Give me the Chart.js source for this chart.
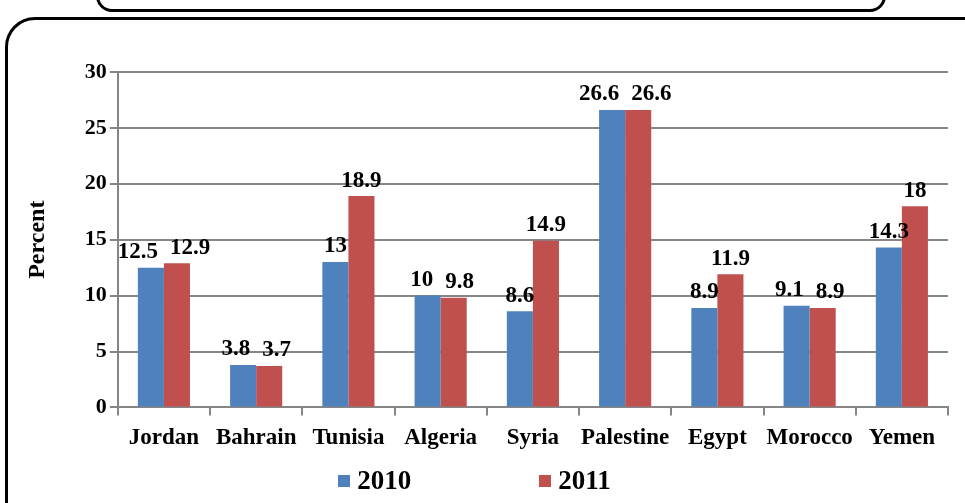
<!DOCTYPE html>
<html>
<head>
<meta charset="utf-8">
<script src="https://cdn.jsdelivr.net/npm/chart.js@4.4.0/dist/chart.umd.min.js"></script>
<style>
  html, body { margin: 0; padding: 0; background: #fff; }
  #wrap { position: relative; width: 965px; height: 503px; overflow: hidden; }
  #myChart { position: absolute; left: 0; top: 0; }
  .box { position: absolute; border: 3px solid #000; box-sizing: border-box; pointer-events: none; }
  #topBox { left: 96px; top: -40px; width: 790px; height: 52px; border-radius: 16px; }
  #outerBox { left: 5px; top: 17px; width: 990px; height: 540px; border-radius: 30px; }
  #legend { position: absolute; left: -8px; top: 465px; width: 965px; display: flex; justify-content: center;
            font-family: 'Liberation Serif', 'Times New Roman', serif; font-weight: bold; font-size: 27px; color: #000; }
  .item { display: flex; align-items: center; margin: 0 64px; }
  .swatch { width: 12px; height: 12px; margin-right: 7px; }
</style>
</head>
<body>
<div id="wrap">
  <canvas id="myChart" width="965" height="503"></canvas>
  <div id="legend"></div>
  <div class="box" id="topBox"></div>
  <div class="box" id="outerBox"></div>
</div>
<script>
const countries = ['Jordan', 'Bahrain', 'Tunisia', 'Algeria', 'Syria', 'Palestine', 'Egypt', 'Morocco', 'Yemen'];
const values2010 = [12.5, 3.8, 13, 10, 8.6, 26.6, 8.9, 9.1, 14.3];
const values2011 = [12.9, 3.7, 18.9, 9.8, 14.9, 26.6, 11.9, 8.9, 18];
const yTicks = [0, 5, 10, 15, 20, 25, 30];

const serif = "'Liberation Serif', 'Times New Roman', serif";

// labels above bars, pushed apart when the two in a group would overlap
const barLabels = {
    id: 'barLabels',
    afterDatasetsDraw(chart) {
        const ctx = chart.ctx;
        ctx.save();
        ctx.font = 'bold 23px ' + serif;
        ctx.fillStyle = '#000';
        ctx.textAlign = 'center';
        ctx.textBaseline = 'bottom';
        const m0 = chart.getDatasetMeta(0), m1 = chart.getDatasetMeta(1);
        for (let i = 0; i < countries.length; i++) {
            const a = m0.data[i], b = m1.data[i];
            const ta = String(values2010[i]), tb = String(values2011[i]);
            const wa = ctx.measureText(ta).width, wb = ctx.measureText(tb).width;
            let xa = a.x, xb = b.x;
            const ya = a.y - 4, yb = b.y - 4;
            const need = (wa + wb) / 2 + 12;
            if (Math.abs(ya - yb) < 24 && xb - xa < need) {
                const push = (need - (xb - xa)) / 2;
                xa -= push;
                xb += push;
            }
            ctx.fillText(ta, xa, ya);
            ctx.fillText(tb, xb, yb);
        }
        ctx.restore();
    }
};

const ctx = document.getElementById('myChart').getContext('2d');
const chart = new Chart(ctx, {
    type: 'bar',
    data: {
        labels: countries,
        datasets: [{
            label: '2010',
            data: values2010,
            backgroundColor: '#4F81BD',
            borderWidth: 0,
            barPercentage: 1.0,
            categoryPercentage: 0.565
        }, {
            label: '2011',
            data: values2011,
            backgroundColor: '#C0504D',
            borderWidth: 0,
            barPercentage: 1.0,
            categoryPercentage: 0.565
        }]
    },
    options: {
        responsive: false,
        animation: false,
        layout: { padding: { left: 23, right: 17, top: 72, bottom: 42 } },
        scales: {
            x: {
                offset: true,
                grid: {
                    offset: true,
                    drawOnChartArea: false,
                    color: '#868686',
                    lineWidth: 2,
                    tickLength: 8
                },
                border: { color: '#868686', width: 2 },
                ticks: {
                    color: '#000',
                    padding: 9,
                    maxRotation: 0,
                    autoSkip: false,
                    font: { family: serif, size: 23, weight: 'bold' }
                }
            },
            y: {
                min: 0,
                max: 30,
                afterBuildTicks: function(axis) {
                    axis.ticks = yTicks.map(v => ({ value: v }));
                },
                grid: {
                    color: '#868686',
                    lineWidth: 2,
                    tickLength: 8
                },
                border: { color: '#868686', width: 2 },
                title: {
                    display: true,
                    text: 'Percent',
                    color: '#000',
                    padding: { top: 0, bottom: 30 },
                    font: { family: serif, size: 24, weight: 'bold' }
                },
                ticks: {
                    color: '#000',
                    padding: 3,
                    font: { family: serif, size: 22, weight: 'bold' }
                }
            }
        },
        plugins: {
            legend: { display: false },
            tooltip: { enabled: false }
        }
    },
    plugins: [barLabels]
});

// legend built from the datasets
const legendEl = document.getElementById('legend');
chart.data.datasets.forEach(ds => {
    const item = document.createElement('div');
    item.className = 'item';
    const sw = document.createElement('div');
    sw.className = 'swatch';
    sw.style.background = ds.backgroundColor;
    const txt = document.createElement('span');
    txt.textContent = ds.label;
    item.appendChild(sw);
    item.appendChild(txt);
    legendEl.appendChild(item);
});
</script>
</body>
</html>
